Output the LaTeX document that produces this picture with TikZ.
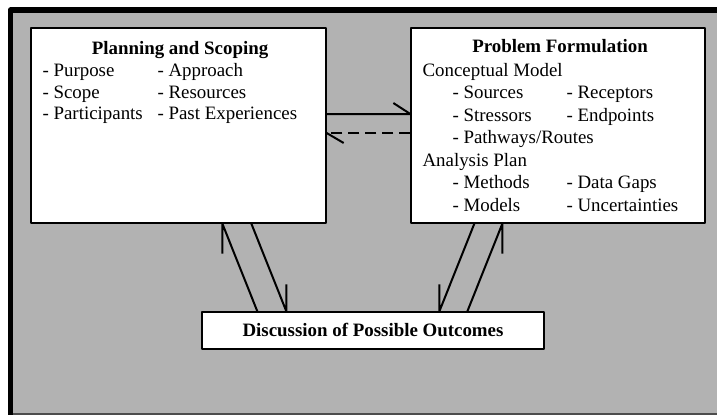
\documentclass[tikz,border=0pt]{standalone}
\usepackage{fontspec}
\setmainfont{Liberation Serif}
\usepackage{array}
\definecolor{bg}{gray}{0.70}
\begin{document}
\begin{tikzpicture}[x=1pt,y=1pt,line join=round,
	box/.style={draw,fill=white,line width=1.3pt,inner sep=0pt},
	link/.style={line width=2pt},
	txt/.style={inner sep=0pt,font=\fontsize{18.9}{21.7}\selectfont},
	ttl/.style={inner sep=0pt,anchor=base,font=\fontsize{18.9}{21.7}\selectfont\bfseries}]
	\useasboundingbox (0,0) rectangle (717,416);
	% frame
	\fill[bg] (10,2) rectangle (717,406);
	\draw[line width=1.5pt,black!70] (10,2) -- (717,2);
	\draw[line width=5.5pt] (10.5,1.5) -- (10.5,406) -- (717,406);
	% boxes
	\node[box,minimum width=295,minimum height=195] (plan) at (178.5,290.5) {};
	\node[box,minimum width=294,minimum height=195] (prob) at (558,290.5) {};
	\node[box,minimum width=342,minimum height=37] (outcome) at (373,85.5) {};
	\node[ttl] (plantitle) at ([xshift=1.5,yshift=-27]plan.north) {Planning and Scoping};
	\node[txt,anchor=base west] (planlist) at ([xshift=12,yshift=-49]plan.north west) {%
		\begin{tabular}[t]{@{}p{115pt}@{}l@{}}
			- Purpose & - Approach\\
			- Scope & - Resources\\
			- Participants & - Past Experiences
		\end{tabular}};
	\node[ttl] (probtitle) at ([xshift=2,yshift=-25]prob.north) {Problem Formulation};
	\node[txt,anchor=base west,font=\fontsize{18.9}{22.5}\selectfont] (problist) at ([xshift=12,yshift=-49]prob.north west) {%
		\begin{tabular}[t]{@{}p{30pt}@{}p{114pt}@{}l@{}}
			\multicolumn{3}{@{}l@{}}{Conceptual Model}\\
			& - Sources & - Receptors\\
			& - Stressors & - Endpoints\\
			& \multicolumn{2}{@{}l@{}}{- Pathways/Routes}\\
			\multicolumn{3}{@{}l@{}}{Analysis Plan}\\
			& - Methods & - Data Gaps\\
			& - Models & - Uncertainties
		\end{tabular}};
	\node[ttl] (outtitle) at ([yshift=-6]outcome.center) {Discussion of Possible Outcomes};
	% connectors
	\draw[link] ([yshift=11.5]plan.east) -- ([yshift=11.5]prob.west) -- ++(-17,11);
	\draw[link,dash pattern=on 11pt off 6pt] ([yshift=-7.5]prob.west) -- ([yshift=-7.5]plan.east);
	\draw[link] ([yshift=-7.5]plan.east) -- ++(17,-10);
	\draw[link] ([xshift=56]outcome.north west) -- ([xshift=192]plan.south west) -- ++(0,-30);
	\draw[link] ([xshift=221]plan.south west) -- ([xshift=85]outcome.north west) -- ++(0,27);
	\draw[link] ([xshift=64]prob.south west) -- ([xshift=238]outcome.north west) -- ++(0,27);
	\draw[link] ([xshift=266]outcome.north west) -- ([xshift=92]prob.south west) -- ++(0,-30);
\end{tikzpicture}
\end{document}
